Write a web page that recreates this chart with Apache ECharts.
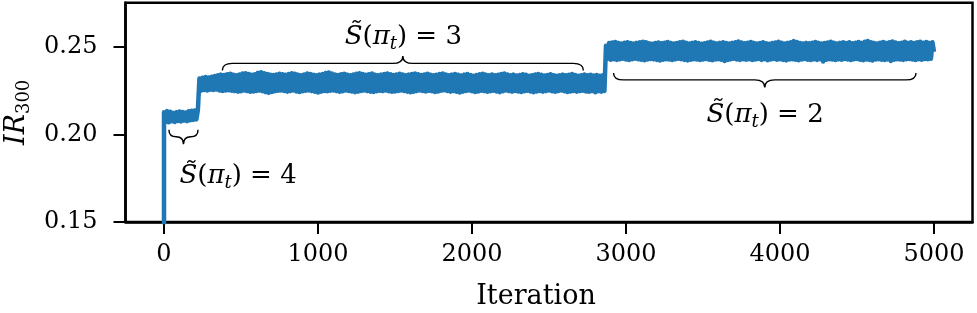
<!DOCTYPE html>
<html>
<head>
<meta charset="utf-8">
<script src="https://cdn.jsdelivr.net/npm/echarts@6/dist/echarts.min.js"></script>
<style>html,body{margin:0;padding:0;background:#fff;}#chart{width:977px;height:313px;}</style>
</head>
<body>
<div id="chart"></div>
<script>
// ---- data (one value every 10 iterations) ----
const stepIter = 10;
const initialIter = 0;
const initialValue = 0.10;

const phase4Start = 0;
const phase4Values = [
  0.2125, 0.2070, 0.2132, 0.2068, 0.2128, 0.2074, 0.2122, 0.2070, 0.2126, 0.2076, 0.2130, 0.2073,
  0.2127, 0.2078, 0.2124, 0.2075, 0.2131, 0.2080, 0.2134, 0.2082, 0.2136, 0.2085, 0.2138
];

const phase3Start = 230;
const phase3Values = [
  0.2318, 0.2248, 0.2322, 0.2252, 0.2326, 0.2250, 0.2324, 0.2254, 0.2328, 0.2252, 0.2332, 0.2255,
  0.2336, 0.2250, 0.2340, 0.2247, 0.2338, 0.2249, 0.2342, 0.2251, 0.2345, 0.2248, 0.2340, 0.2246,
  0.2337, 0.2243, 0.2341, 0.2245, 0.2346, 0.2249, 0.2348, 0.2246, 0.2343, 0.2242, 0.2339, 0.2244,
  0.2342, 0.2247, 0.2350, 0.2249, 0.2354, 0.2245, 0.2348, 0.2240, 0.2343, 0.2236, 0.2340, 0.2241,
  0.2338, 0.2245, 0.2341, 0.2248, 0.2345, 0.2250, 0.2342, 0.2247, 0.2339, 0.2243, 0.2344, 0.2246,
  0.2348, 0.2249, 0.2345, 0.2244, 0.2340, 0.2241, 0.2337, 0.2245, 0.2341, 0.2248, 0.2346, 0.2250,
  0.2343, 0.2246, 0.2339, 0.2242, 0.2336, 0.2238, 0.2340, 0.2243, 0.2344, 0.2247, 0.2349, 0.2245,
  0.2352, 0.2248, 0.2346, 0.2250, 0.2341, 0.2246, 0.2338, 0.2242, 0.2342, 0.2245, 0.2345, 0.2249,
  0.2340, 0.2247, 0.2337, 0.2244, 0.2341, 0.2240, 0.2345, 0.2243, 0.2348, 0.2247, 0.2343, 0.2250,
  0.2339, 0.2246, 0.2342, 0.2243, 0.2346, 0.2241, 0.2340, 0.2245, 0.2336, 0.2248, 0.2340, 0.2246,
  0.2344, 0.2249, 0.2347, 0.2245, 0.2342, 0.2242, 0.2338, 0.2244, 0.2341, 0.2247, 0.2345, 0.2250,
  0.2341, 0.2246, 0.2337, 0.2243, 0.2340, 0.2239, 0.2344, 0.2242, 0.2347, 0.2246, 0.2342, 0.2249,
  0.2338, 0.2247, 0.2341, 0.2244, 0.2345, 0.2248, 0.2340, 0.2245, 0.2336, 0.2241, 0.2339, 0.2244,
  0.2343, 0.2248, 0.2346, 0.2251, 0.2341, 0.2247, 0.2337, 0.2243, 0.2340, 0.2246, 0.2344, 0.2242,
  0.2339, 0.2238, 0.2335, 0.2243, 0.2340, 0.2247, 0.2343, 0.2249, 0.2338, 0.2245, 0.2334, 0.2241,
  0.2338, 0.2244, 0.2342, 0.2248, 0.2345, 0.2246, 0.2340, 0.2242, 0.2337, 0.2245, 0.2341, 0.2248,
  0.2336, 0.2244, 0.2339, 0.2240, 0.2343, 0.2245, 0.2346, 0.2249, 0.2341, 0.2246, 0.2337, 0.2243,
  0.2340, 0.2247, 0.2335, 0.2244, 0.2338, 0.2241, 0.2342, 0.2245, 0.2339, 0.2248, 0.2334, 0.2244,
  0.2337, 0.2240, 0.2341, 0.2244, 0.2344, 0.2247, 0.2339, 0.2243, 0.2335, 0.2246, 0.2338, 0.2249,
  0.2342, 0.2245, 0.2336, 0.2242, 0.2333, 0.2246, 0.2337, 0.2249, 0.2340, 0.2245, 0.2336, 0.2241,
  0.2339, 0.2244, 0.2343, 0.2247, 0.2338, 0.2243, 0.2334, 0.2246, 0.2337, 0.2248, 0.2341, 0.2244,
  0.2336, 0.2242, 0.2339, 0.2246, 0.2335, 0.2240, 0.2338, 0.2245, 0.2334, 0.2243, 0.2337, 0.2247
];

const phase2Start = 2870;
const phase2Values = [
  0.2505, 0.2430, 0.2520, 0.2425, 0.2523, 0.2428, 0.2526, 0.2424, 0.2521, 0.2427, 0.2518, 0.2430,
  0.2522, 0.2426, 0.2525, 0.2423, 0.2520, 0.2428, 0.2517, 0.2431, 0.2521, 0.2427, 0.2524, 0.2425,
  0.2528, 0.2422, 0.2524, 0.2426, 0.2519, 0.2429, 0.2516, 0.2427, 0.2520, 0.2424, 0.2523, 0.2420,
  0.2519, 0.2425, 0.2522, 0.2428, 0.2526, 0.2426, 0.2521, 0.2423, 0.2517, 0.2427, 0.2520, 0.2430,
  0.2524, 0.2427, 0.2527, 0.2424, 0.2522, 0.2421, 0.2518, 0.2425, 0.2521, 0.2428, 0.2525, 0.2426,
  0.2520, 0.2423, 0.2516, 0.2426, 0.2519, 0.2429, 0.2523, 0.2425, 0.2527, 0.2422, 0.2522, 0.2426,
  0.2518, 0.2428, 0.2521, 0.2425, 0.2524, 0.2418, 0.2520, 0.2423, 0.2517, 0.2427, 0.2521, 0.2430,
  0.2525, 0.2426, 0.2529, 0.2424, 0.2523, 0.2427, 0.2519, 0.2425, 0.2522, 0.2428, 0.2526, 0.2423,
  0.2521, 0.2426, 0.2517, 0.2429, 0.2520, 0.2424, 0.2524, 0.2427, 0.2519, 0.2422, 0.2516, 0.2426,
  0.2520, 0.2429, 0.2523, 0.2425, 0.2527, 0.2428, 0.2522, 0.2424, 0.2518, 0.2421, 0.2521, 0.2426,
  0.2524, 0.2428, 0.2531, 0.2425, 0.2526, 0.2422, 0.2520, 0.2426, 0.2517, 0.2429, 0.2521, 0.2425,
  0.2519, 0.2423, 0.2522, 0.2427, 0.2526, 0.2424, 0.2521, 0.2428, 0.2518, 0.2415, 0.2520, 0.2425,
  0.2523, 0.2428, 0.2527, 0.2426, 0.2522, 0.2423, 0.2518, 0.2427, 0.2521, 0.2425, 0.2525, 0.2429,
  0.2520, 0.2426, 0.2524, 0.2423, 0.2519, 0.2427, 0.2522, 0.2429, 0.2526, 0.2425, 0.2521, 0.2422,
  0.2528, 0.2426, 0.2532, 0.2424, 0.2525, 0.2420, 0.2521, 0.2426, 0.2518, 0.2428, 0.2522, 0.2425,
  0.2526, 0.2423, 0.2521, 0.2427, 0.2524, 0.2418, 0.2529, 0.2425, 0.2523, 0.2428, 0.2519, 0.2426,
  0.2522, 0.2424, 0.2527, 0.2427, 0.2521, 0.2429, 0.2525, 0.2426, 0.2520, 0.2423, 0.2524, 0.2428,
  0.2527, 0.2425, 0.2522, 0.2429, 0.2526, 0.2427, 0.2521, 0.2430, 0.2524, 0.2470
];

const xTicks = [0, 1000, 2000, 3000, 4000, 5000];
const yTicks = [0.15, 0.20, 0.25];

// brace annotations (data coordinates)
const braceFrom = [32, 379, 2919];
const braceTo = [221, 2723, 4883];
const braceLevel = [0.1986, 0.2404, 0.2310];
const braceCuspUp = [0, 1, 0];
const labelIter = [481, 1554, 3903];
const labelLevel = [0.1759, 0.2553, 0.2110];
const labelValue = [4, 3, 2];

// ---- build ----
const lineData = [[initialIter, initialValue]];
[[phase4Start, phase4Values], [phase3Start, phase3Values], [phase2Start, phase2Values]].forEach(([s, arr]) => {
  arr.forEach((v, i) => lineData.push([s + i * stepIter, v]));
});

const braceData = braceFrom.map((f, i) => [f, braceTo[i], braceLevel[i], braceCuspUp[i], labelIter[i], labelLevel[i], labelValue[i]]);

const FONT = 'DejaVu Serif';
const AF = 26;
const mathRich = {
  i: {fontFamily: FONT, fontStyle: 'italic', fontSize: AF, lineHeight: 32, fill: '#000', verticalAlign: 'middle'},
  n: {fontFamily: FONT, fontSize: AF, lineHeight: 32, fill: '#000', verticalAlign: 'middle'},
  s: {fontFamily: FONT, fontStyle: 'italic', fontSize: 18, lineHeight: 18, fill: '#000', verticalAlign: 'bottom'}
};

const chart = echarts.init(document.getElementById('chart'), null, {renderer: 'canvas'});
chart.setOption({
  animation: false,
  backgroundColor: '#fff',
  grid: {left: 125.5, right: 4.5, top: 2.7, bottom: 91, containLabel: false, outerBoundsMode: 'none',
         show: true, borderColor: '#000', borderWidth: 2.5, backgroundColor: 'transparent'},
  xAxis: {
    type: 'value', min: -250, max: 5250,
    axisLine: {show: true, onZero: false, lineStyle: {color: '#000', width: 2.5}},
    splitLine: {show: false},
    axisTick: {show: true, inside: false, length: 12, lineStyle: {color: '#000', width: 2}, customValues: xTicks},
    axisLabel: {customValues: xTicks, color: '#000', fontFamily: FONT, fontSize: 24, margin: 21, formatter: v => String(v)},
    name: 'Iteration', nameLocation: 'middle', nameGap: 61,
    nameTextStyle: {color: '#000', fontFamily: FONT, fontSize: 27, padding: [0, 26, 0, 0]}
  },
  yAxis: {
    type: 'value', min: 0.15, max: 0.275,
    axisLine: {show: true, onZero: false, lineStyle: {color: '#000', width: 2.5}},
    splitLine: {show: false},
    axisTick: {show: true, inside: false, length: 12, lineStyle: {color: '#000', width: 2}, customValues: yTicks},
    axisLabel: {customValues: yTicks, color: '#000', fontFamily: FONT, fontSize: 24, margin: 28, formatter: v => v.toFixed(2)},
    name: '{i|IR}{s|300}', nameLocation: 'middle', nameGap: 92, nameRotate: 90,
    nameTextStyle: {
      color: '#000', fontFamily: FONT, fontSize: 27,
      rich: {
        i: {fontFamily: FONT, fontStyle: 'italic', fontSize: 27, lineHeight: 32, color: '#000'},
        s: {fontFamily: FONT, fontSize: 18, lineHeight: 18, color: '#000', verticalAlign: 'bottom'}
      }
    }
  },
  series: [
    {
      type: 'line', data: lineData, showSymbol: false, symbol: 'none',
      lineStyle: {color: '#1f77b4', width: 4.5, cap: 'butt', join: 'round'},
      clip: true, silent: true, z: 2
    },
    {
      type: 'custom', data: braceData, silent: true, clip: false, z: 3,
      encode: {x: [0, 1, 4], y: [2, 5]},
      renderItem: function (params, api) {
        const p0 = api.coord([api.value(0), api.value(2)]);
        const p1 = api.coord([api.value(1), api.value(2)]);
        const up = api.value(3) === 1 ? 1 : -1;
        const x0 = p0[0], x1 = p1[0], y = p0[1];
        const xm = (x0 + x1) / 2;
        const r = Math.min(10, (x1 - x0) / 4);
        const tipY = y + up * 7;
        const cuspY = y - up * 7.5;
        const path = `M${x0} ${tipY} Q${x0} ${y} ${x0 + r} ${y} L${xm - r} ${y} Q${xm} ${y} ${xm} ${cuspY} Q${xm} ${y} ${xm + r} ${y} L${x1 - r} ${y} Q${x1} ${y} ${x1} ${tipY}`;
        const lp = api.coord([api.value(4), api.value(5)]);
        return {
          type: 'group',
          children: [
            {type: 'path', shape: {pathData: path}, style: {stroke: '#000', fill: null, lineWidth: 1.4}},
            {type: 'text', x: lp[0], y: lp[1], style: {
              text: '{i|S\u0303}{n|(}{i|\u03c0}{s|t}{n|) = ' + api.value(6) + '}',
              rich: mathRich, align: 'center', verticalAlign: 'middle', fill: '#000', fontFamily: FONT, fontSize: AF
            }}
          ]
        };
      }
    }
  ]
});
</script>
</body>
</html>
